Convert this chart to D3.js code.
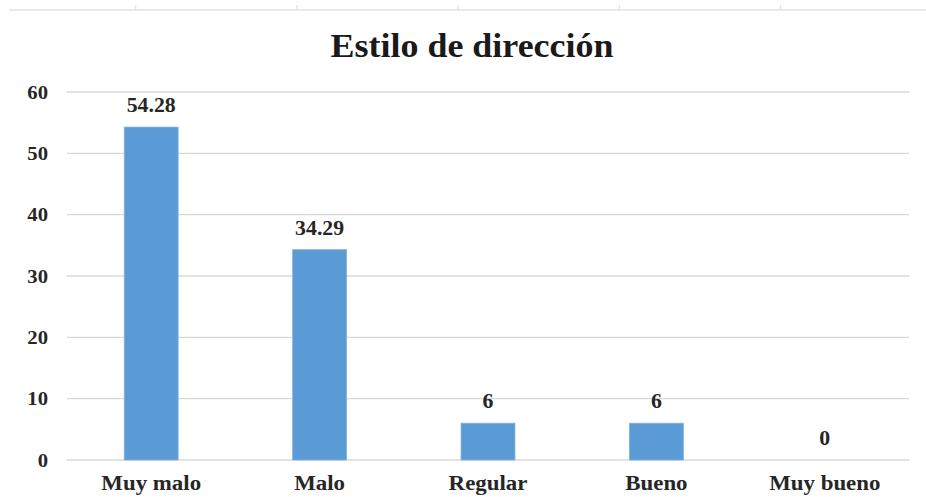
<!DOCTYPE html>
<html><head><meta charset="utf-8">
<script src="https://cdn.jsdelivr.net/npm/d3@7"></script>
<style>body{margin:0;background:#fff}svg{display:block}svg text{font-family:"Liberation Serif","Times New Roman",Times,serif}</style>
</head><body><svg id="c" width="926" height="497"></svg>
<script>
const categories = ["Muy malo","Malo","Regular","Bueno","Muy bueno"];
const values = [54.28,34.29,6,6,0];
const valueLabels = ["54.28","34.29","6","6","0"];
const yTicks = [0,10,20,30,40,50,60];
const title = "Estilo de dirección";
const topTicks = [0,1,2,3,4,5];

const svg = d3.select("#c");
const SX = 1.09; // horizontal stretch of the source image text
const x = d3.scaleBand().domain(categories).range([67,909]).paddingInner(0.68).paddingOuter(0.34);
const y = d3.scaleLinear().domain([0,60]).range([460,92]);
const place = (px,py)=>`translate(${px},${py}) scale(${SX},1)`;

// faint residual top border with ticks
const xt = d3.scaleLinear().domain([0,5]).range([-26,780]);
svg.append("line").attr("x1",9).attr("x2",926).attr("y1",10).attr("y2",10).attr("stroke","#e2e2e2").attr("stroke-width",1.5);
svg.selectAll(".tt").data(topTicks.slice(1)).join("line")
  .attr("x1",d=>xt(d)+0.5).attr("x2",d=>xt(d)+0.5).attr("y1",5).attr("y2",10)
  .attr("stroke","#e2e2e2").attr("stroke-width",1.2);

// gridlines
svg.selectAll(".grid").data(yTicks).join("line")
  .attr("x1",67).attr("x2",909).attr("y1",d=>y(d)).attr("y2",d=>y(d))
  .attr("stroke","#d9d9d9").attr("stroke-width",1.3);

// y tick labels
svg.selectAll(".yl").data(yTicks).join("text")
  .attr("transform",d=>place(48,y(d))).attr("dy","0.35em")
  .attr("text-anchor","end").attr("font-weight","bold")
  .attr("font-size",19).attr("fill","#262626").text(d=>d);

// bars
svg.selectAll(".bar").data(values).join("rect")
  .attr("x",(d,i)=>x(categories[i])).attr("width",x.bandwidth())
  .attr("y",d=>y(d)).attr("height",d=>y(0)-y(d))
  .attr("fill","#5b9bd5").attr("stroke","#7fb2e2").attr("stroke-width",0.8);

// value labels
svg.selectAll(".vl").data(values).join("text")
  .attr("transform",(d,i)=>place(x(categories[i])+x.bandwidth()/2,y(d)-15))
  .attr("text-anchor","middle").attr("font-weight","bold")
  .attr("font-size",20).attr("fill","#262626").text((d,i)=>valueLabels[i]);

// category labels
svg.selectAll(".cl").data(categories).join("text")
  .attr("transform",d=>place(x(d)+x.bandwidth()/2,490))
  .attr("text-anchor","middle").attr("font-weight","bold")
  .attr("font-size",21).attr("fill","#262626").text(d=>d);

// title
svg.append("text").attr("transform",place(472,57)).attr("text-anchor","middle")
  .attr("font-weight","bold").attr("font-size",33)
  .attr("fill","#1a1a1a").text(title);
</script></body></html>
